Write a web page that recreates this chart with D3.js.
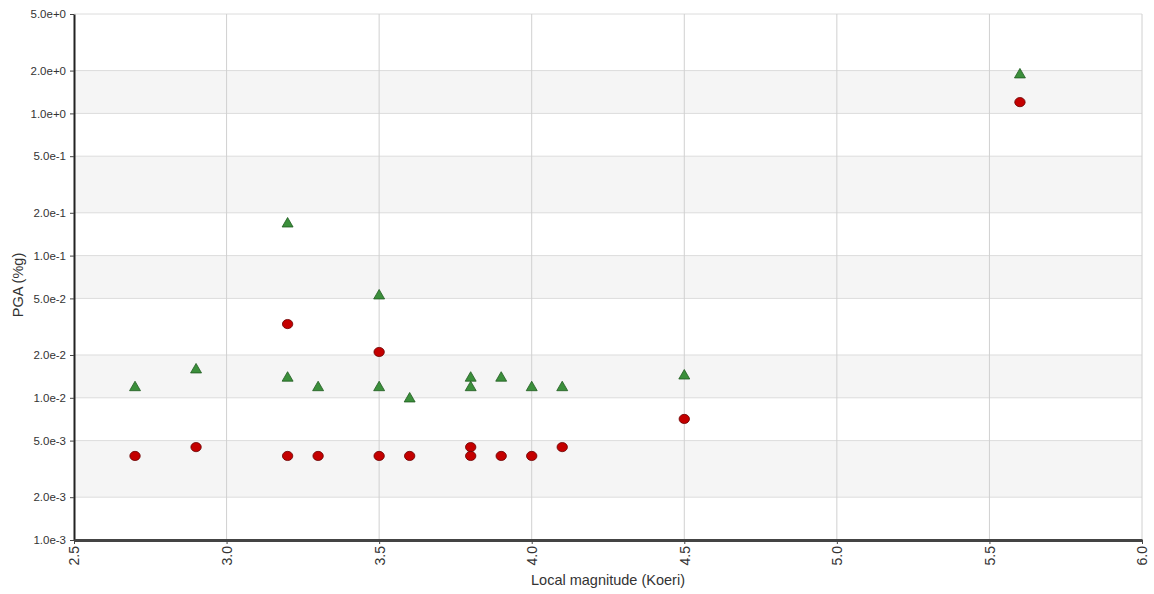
<!DOCTYPE html>
<html>
<head>
<meta charset="utf-8">
<script src="https://cdn.jsdelivr.net/npm/d3@7"></script>
<style>
body{margin:0;background:#fff;}
svg text{font-family:"Liberation Sans",Arial,sans-serif;}
</style>
</head>
<body>
<div id="chart"></div>
<script>
// valeurs
const magTri = [2.7, 2.9, 3.2, 3.2, 3.3, 3.5, 3.5, 3.6, 3.8, 3.8, 3.9, 4.0, 4.1, 4.5, 5.6]
const pgaTri = [0.012, 0.016, 0.17, 0.014, 0.012, 0.053, 0.012, 0.010, 0.014, 0.012, 0.014, 0.012, 0.012, 0.0145, 1.9]
const magDot = [2.7, 2.9, 3.2, 3.2, 3.3, 3.5, 3.5, 3.6, 3.8, 3.8, 3.9, 4.0, 4.1, 4.5, 5.6]
const pgaDot = [0.0039, 0.0045, 0.033, 0.0039, 0.0039, 0.021, 0.0039, 0.0039, 0.0045, 0.0039, 0.0039, 0.0039, 0.0045, 0.0071, 1.2]
const yTicks = [5, 2, 1, 0.5, 0.2, 0.1, 0.05, 0.02, 0.01, 0.005, 0.002, 0.001]
const xTicks = [2.5, 3.0, 3.5, 4.0, 4.5, 5.0, 5.5, 6.0]

const W = 1154, H = 594
const m = {left: 74, right: 12, top: 14, bottom: 54}

const svg = d3.select("#chart").append("svg")
    .attr("width", W)
    .attr("height", H)

const x = d3.scaleLinear().domain([2.5, 6.0]).range([m.left, W - m.right])
const y = d3.scaleLog().domain([0.001, 5]).range([H - m.bottom, m.top])

// bandes grises alternees
for (let i = 1; i < yTicks.length - 1; i += 2) {
    svg.append("rect")
    .attr("x", x(2.5))
    .attr("width", x(6.0) - x(2.5))
    .attr("y", y(yTicks[i]))
    .attr("height", y(yTicks[i + 1]) - y(yTicks[i]))
    .attr("fill", "#f5f5f5")
}

// grille horizontale
svg.selectAll(".hgrid")
    .data(yTicks)
    .enter()
    .append("line")
    .attr("x1", x(2.5))
    .attr("x2", x(6.0))
    .attr("y1", d => y(d))
    .attr("y2", d => y(d))
    .attr("stroke", "#dcdcdc")
    .attr("stroke-width", 1)

// grille verticale
svg.selectAll(".vgrid")
    .data(xTicks.slice(1))
    .enter()
    .append("line")
    .attr("x1", d => x(d))
    .attr("x2", d => x(d))
    .attr("y1", y(5))
    .attr("y2", y(0.001))
    .attr("stroke", "#d0d0d0")
    .attr("stroke-width", 1)

// axe Y
const yAxis = svg.append("g")
    .attr("transform", "translate(" + x(2.5) + ",0)")
    .call(d3.axisLeft(y).tickValues(yTicks).tickFormat(d3.format(".1e")).tickSize(4).tickSizeOuter(0))
yAxis.select(".domain").attr("stroke", "#222").attr("stroke-width", 2)
yAxis.selectAll(".tick line").attr("stroke", "#444")
yAxis.selectAll(".tick text")
    .attr("fill", "#333")
    .style("font-size", "11.5px")
    .attr("dx", "-1")

// axe X
const xAxis = svg.append("g")
    .attr("transform", "translate(0," + y(0.001) + ")")
    .call(d3.axisBottom(x).tickValues(xTicks).tickFormat(d3.format(".1f")).tickSize(4).tickSizeOuter(0))
xAxis.select(".domain").attr("stroke", "#444").attr("stroke-width", 3)
xAxis.selectAll(".tick line").attr("stroke", "#444")
xAxis.selectAll(".tick text")
    .attr("fill", "#333")
    .style("font-size", "14px")
    .attr("transform", "rotate(-90)")
    .attr("text-anchor", "end")
    .attr("x", -6)
    .attr("y", 0)
    .attr("dy", "0.35em")

// titres des axes
svg.append("text")
    .attr("x", (x(2.5) + x(6.0)) / 2)
    .attr("y", 585)
    .attr("text-anchor", "middle")
    .attr("fill", "#333")
    .style("font-size", "14.5px")
    .text("Local magnitude (Koeri)")

svg.append("text")
    .attr("transform", "translate(23,285) rotate(-90)")
    .attr("text-anchor", "middle")
    .attr("fill", "#333")
    .style("font-size", "14.5px")
    .text("PGA (%g)")

// triangles verts
const tri = magTri.map((d, i) => ({m: d, v: pgaTri[i]}))
svg.selectAll(".tri")
    .data(tri)
    .enter()
    .append("path")
    .attr("d", d3.symbol().type(d3.symbolTriangle).size(52))
    .attr("transform", d => "translate(" + x(d.m) + "," + (y(d.v) + 1) + ")")
    .attr("fill", "#3b8f3b")
    .attr("stroke", "#1f5a1f")
    .attr("stroke-width", 0.8)

// ronds rouges
const dot = magDot.map((d, i) => ({m: d, v: pgaDot[i]}))
svg.selectAll(".dot")
    .data(dot)
    .enter()
    .append("ellipse")
    .attr("cx", d => x(d.m))
    .attr("cy", d => y(d.v))
    .attr("rx", 5.2)
    .attr("ry", 4.6)
    .attr("fill", "#c40000")
    .attr("stroke", "#6a0000")
    .attr("stroke-width", 0.8)
</script>
</body>
</html>
